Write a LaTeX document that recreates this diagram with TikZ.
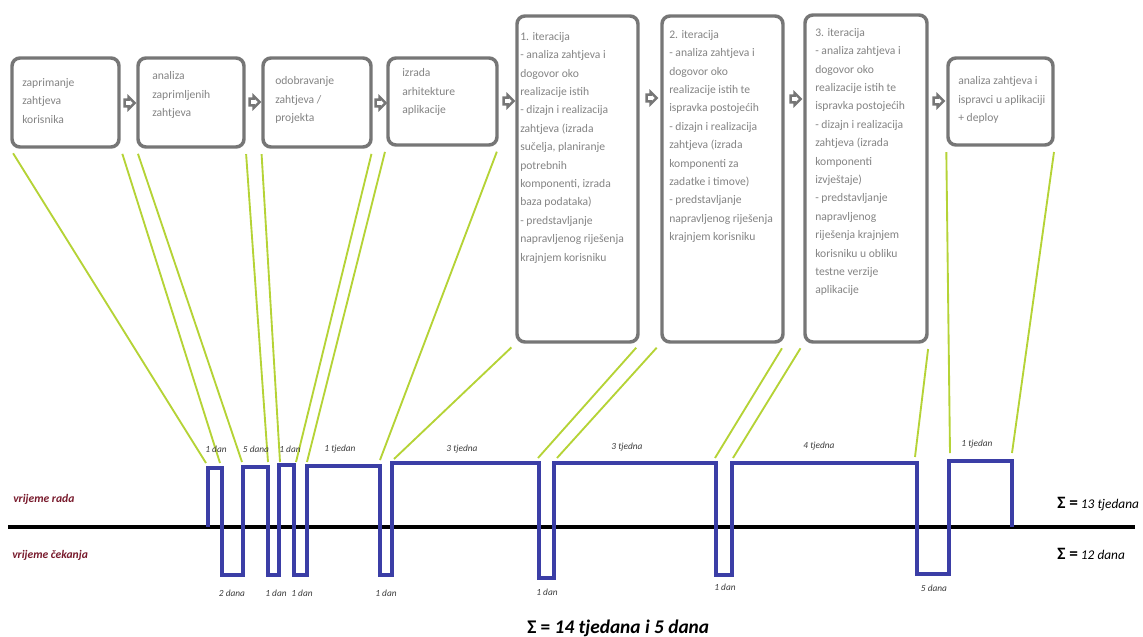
\documentclass[tikz,border=0pt]{standalone}
\usepackage{fontspec}
\setmainfont{Carlito}
\usetikzlibrary{fit,shapes.arrows}

\definecolor{boxgray}{RGB}{118,118,118}
\definecolor{textgray}{RGB}{132,132,132}
\definecolor{linkgreen}{RGB}{181,211,54}
\definecolor{pulseblue}{RGB}{59,62,166}
\definecolor{labelred}{RGB}{120,26,44}
\definecolor{durgray}{RGB}{60,60,60}

\tikzset{
	stepbox/.style={draw=boxgray, line width=2.6pt, rounded corners=6pt, fill=white, inner sep=0pt},
	boxtext/.style={text=textgray, font=\fontsize{8.7}{13.8}\selectfont, align=left, inner sep=0pt},
	flowarrow/.style={single arrow, draw=boxgray, fill=white, line width=1.8pt, inner sep=1.6pt, minimum height=7pt, single arrow head extend=2pt},
	link/.style={draw=linkgreen, line width=1.4pt, shorten <=4pt},
	pulse/.style={draw=pulseblue, line width=2.8pt, line join=miter},
	axisline/.style={draw=black, line width=3.2pt},
	durlabel/.style={text=durgray, font=\fontsize{7}{8}\selectfont\itshape, inner sep=0pt},
	sidelabel/.style={text=labelred, font=\fontsize{8.7}{10}\selectfont\bfseries\itshape, inner sep=0pt, anchor=west},
	sumlabel/.style={font=\fontsize{10}{12}\selectfont\itshape, inner sep=0pt, anchor=west}
}

\begin{document}
\begin{tikzpicture}[x=0.75pt,y=0.75pt,yscale=-1,xscale=1]
	\useasboundingbox (0,0) rectangle (1143,636);

	% Boxes
	\node [stepbox, fit={(12,58) (119,147)}] (b1) {};
	\node [stepbox, fit={(138,58) (244,147)}] (b2) {};
	\node [stepbox, fit={(263,58) (371,147)}] (b3) {};
	\node [stepbox, fit={(388,58) (497,145)}] (b4) {};
	\node [stepbox, fit={(517,16) (638,342)}] (b5) {};
	\node [stepbox, fit={(662,16) (783,342)}] (b6) {};
	\node [stepbox, fit={(805,15) (927,342)}] (b7) {};
	\node [stepbox, fit={(948,58) (1053,145)}] (b8) {};

	% Text Node
	\node [boxtext, anchor=west] (t1) at (22,101) {zaprimanje\\zahtjeva\\korisnika};
	% Text Node
	\node [boxtext, anchor=west] (t2) at (152,95) {analiza\\zaprimljenih\\zahtjeva};
	% Text Node
	\node [boxtext, anchor=west] (t3) at (275,100) {odobravanje\\zahtjeva /\\projekta};
	% Text Node
	\node [boxtext, anchor=west] (t4) at (402,92) {izrada\\arhitekture\\aplikacije};
	% Text Node
	\node [boxtext, anchor=north west] (t5) at (520,32) {1. iteracija\\- analiza zahtjeva i\\dogovor oko\\realizacije istih\\- dizajn i realizacija\\zahtjeva (izrada\\sučelja, planiranje\\potrebnih\\komponenti, izrada\\baza podataka)\\- predstavljanje\\napravljenog riješenja\\krajnjem korisniku};
	% Text Node
	\node [boxtext, anchor=north west] (t6) at (669,30) {2. iteracija\\- analiza zahtjeva i\\dogovor oko\\realizacije istih te\\ispravka postojećih\\- dizajn i realizacija\\zahtjeva (izrada\\komponenti za\\zadatke i timove)\\- predstavljanje\\napravljenog riješenja\\krajnjem korisniku};
	% Text Node
	\node [boxtext, anchor=north west] (t7) at (815,28) {3. iteracija\\- analiza zahtjeva i\\dogovor oko\\realizacije istih te\\ispravka postojećih\\- dizajn i realizacija\\zahtjeva (izrada\\komponenti\\izvještaje)\\- predstavljanje\\napravljenog\\riješenja krajnjem\\korisniku u obliku\\testne verzije\\aplikacije};
	% Text Node
	\node [boxtext, anchor=west] (t8) at (958,100) {analiza zahtjeva i\\ispravci u aplikaciji\\+ deploy};

	% Arrows between boxes
	\node [flowarrow] (a1) at (128,103) {};
	\node [flowarrow] (a2) at (253,102) {};
	\node [flowarrow] (a3) at (379,103) {};
	\node [flowarrow] (a4) at (507,101) {};
	\node [flowarrow] (a5) at (650,98) {};
	\node [flowarrow] (a6) at (794,99) {};
	\node [flowarrow] (a7) at (937,101) {};

	% Ends of the green lines above the pulses
	\coordinate (g1) at (206,463);
	\coordinate (g2) at (220,463);
	\coordinate (g3) at (242,462);
	\coordinate (g4) at (268,462);
	\coordinate (g5) at (280,462);
	\coordinate (g6) at (296,462);
	\coordinate (g7) at (307,462);
	\coordinate (g8) at (380,460);
	\coordinate (g9) at (394,459);
	\coordinate (g10) at (538,458);
	\coordinate (g11) at (557,458);
	\coordinate (g12) at (715,458);
	\coordinate (g13) at (733,458);
	\coordinate (g14) at (915,457);
	\coordinate (g15) at (950,453);
	\coordinate (g16) at (1012,453);

	% Green lines
	\draw [link] (b1.south west) -- (g1);
	\draw [link] (b1.south east) -- (g2);
	\draw [link] (b2.south west) -- (g3);
	\draw [link] (b2.south east) -- (g4);
	\draw [link] (b3.south west) -- (g5);
	\draw [link] (b3.south east) -- (g6);
	\draw [link] (b4.south west) -- (g7);
	\draw [link] (b4.south east) -- (g8);
	\draw [link] (b5.south west) -- (g9);
	\draw [link] (b5.south east) -- (g10);
	\draw [link] (b6.south west) -- (g11);
	\draw [link] (b6.south east) -- (g12);
	\draw [link] (b7.south west) -- (g13);
	\draw [link] (b7.south east) -- (g14);
	\draw [link] (b8.south west) -- (g15);
	\draw [link] (b8.south east) -- (g16);

	% Time axis
	\coordinate (ax0) at (8,527);
	\coordinate (ax1) at (1135,527);
	\draw [axisline] (ax0) -- (ax1);

	% Work and waiting pulses
	\draw [pulse] (208,527) -- (208,468) -- (222,468) -- (222,575) -- (243,575) -- (243,467) -- (268,467) -- (268,575) -- (279,575) -- (279,465) -- (294,465) -- (294,575) -- (307,575) -- (307,466) -- (380,466) -- (380,575) -- (392,575) -- (392,463) -- (539,463) -- (539,578) -- (554,578) -- (554,463) -- (716,463) -- (716,575) -- (732,575) -- (732,463) -- (917,463) -- (917,574) -- (949,574) -- (949,461) -- (1012,461) -- (1012,527);

	% Text Node
	\node [durlabel] (d1) at (216,449) {1 dan};
	\node [durlabel] (d2) at (256,449) {5 dana};
	\node [durlabel] (d3) at (290,449) {1 dan};
	\node [durlabel] (d4) at (340,449) {1 tjedan};
	\node [durlabel] (d5) at (462,449) {3 tjedna};
	\node [durlabel] (d6) at (627,447) {3 tjedna};
	\node [durlabel] (d7) at (819,446) {4 tjedna};
	\node [durlabel] (d8) at (977,444) {1 tjedan};
	% Text Node
	\node [durlabel] (w1) at (232,593) {2 dana};
	\node [durlabel] (w2) at (276,593) {1 dan};
	\node [durlabel] (w3) at (302,593) {1 dan};
	\node [durlabel] (w4) at (386,593) {1 dan};
	\node [durlabel] (w5) at (547,592) {1 dan};
	\node [durlabel] (w6) at (725,587) {1 dan};
	\node [durlabel] (w7) at (934,588) {5 dana};

	% Text Node
	\node [sidelabel] (rada) at (13,499) {vrijeme rada};
	\node [sidelabel] (cekanja) at (12,555) {vrijeme čekanja};

	% Text Node
	\node [sumlabel] (sumrada) at (1057,504) {{\fontsize{13}{14}\selectfont\bfseries\upshape Σ =} 13 tjedana};
	\node [sumlabel] (sumcek) at (1057,554) {{\fontsize{13}{14}\selectfont\bfseries\upshape Σ =} 12 dana};
	\node [anchor=base west, inner sep=0pt, font=\fontsize{14.5}{16}\selectfont\bfseries\itshape] (total) at (527,633) {{\upshape Σ =} 14 tjedana i 5 dana};

\end{tikzpicture}
\end{document}
